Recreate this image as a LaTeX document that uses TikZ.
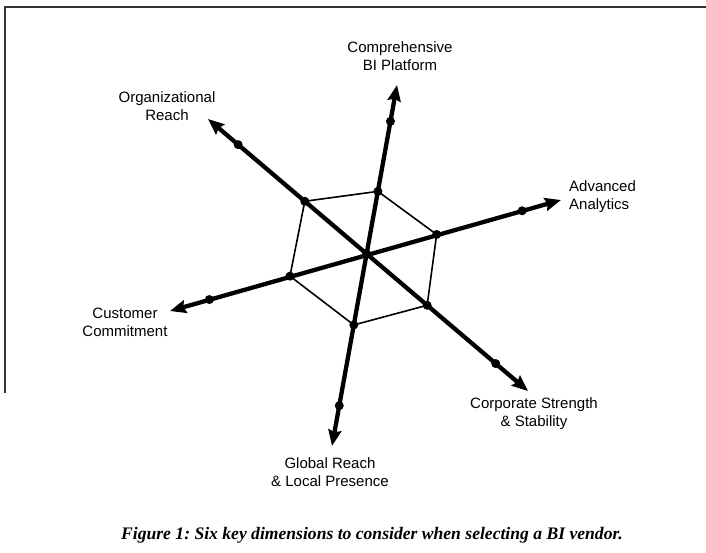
\documentclass[tikz,border=0pt]{standalone}
\usepackage{fontspec}
\setmainfont{Liberation Sans}
\newfontfamily\capfont{Liberation Serif}
\usetikzlibrary{arrows.meta,calc}
\frenchspacing
\begin{document}
\begin{tikzpicture}[x=1pt,y=-1pt,
  axis/.style={line width=4.3pt,
    {Stealth[length=16pt,width=13pt,inset=2pt]}-{Stealth[length=16pt,width=13pt,inset=2pt]}},
  hexline/.style={line width=1.6pt},
  dot/.style={circle,fill=black,inner sep=0pt,minimum size=9pt},
  lbl/.style={font=\fontsize{15}{18}\selectfont, align=center, inner sep=0pt},
  frameline/.style={line width=1.5pt, black!80}]
\useasboundingbox (0,0) rectangle (706,552);
% frame
\coordinate (fTR) at (706,7);
\coordinate (fTL) at (5,7);
\coordinate (fBL) at (5,393);
\draw[frameline] (fTR) -- (fTL) -- (fBL);
% axis tips
\coordinate (tU) at (397,85);
\coordinate (tG) at (332,446);
\coordinate (tO) at (208,119);
\coordinate (tC) at (528,391);
\coordinate (tA) at (561,200);
\coordinate (tM) at (170,311);
\coordinate (c) at (intersection of tU--tG and tO--tC);
% hexagon vertices
\coordinate (hU) at ($(c)!0.37!(tU)$);
\coordinate (hA) at ($(c)!0.36!(tA)$);
\coordinate (hC) at ($(c)!0.375!(tC)$);
\coordinate (hG) at ($(c)!0.37!(tG)$);
\coordinate (hM) at ($(c)!0.39!(tM)$);
\coordinate (hO) at ($(c)!0.39!(tO)$);
% outer dots
\coordinate (oU) at ($(c)!0.785!(tU)$);
\coordinate (oA) at ($(c)!0.80!(tA)$);
\coordinate (oC) at ($(c)!0.80!(tC)$);
\coordinate (oG) at ($(c)!0.79!(tG)$);
\coordinate (oM) at ($(c)!0.80!(tM)$);
\coordinate (oO) at ($(c)!0.81!(tO)$);
% hexagon
\draw[hexline] (hU) -- (hA) -- (hC) -- (hG) -- (hM) -- (hO) -- cycle;
% axes
\draw[axis] (tG) -- (tU);
\draw[axis] (tO) -- (tC);
\draw[axis] (tM) -- (tA);
% dots
\foreach \p in {c,hU,hA,hC,hG,hM,hO,oU,oA,oC,oG,oM,oO}
  \node[dot] (d\p) at (\p) {};
% labels
\node[lbl] (lU) at (400,56) {Comprehensive\\BI Platform};
\node[lbl] (lO) at (167,106.5) {Organizational\\Reach};
\node[lbl, anchor=west, align=left] (lA) at (569,196.5) {Advanced\\Analytics};
\node[lbl] (lM) at (125,322) {Customer\\Commitment};
\node[lbl] (lC) at (534,414) {Corporate Strength\\\& Stability};
\node[lbl] (lG) at (330,472) {Global Reach\\\& Local Presence};
% caption
\node[font={\capfont\fontsize{17.6}{20}\selectfont\bfseries\itshape}, inner sep=0pt] (cap) at (372,535)
  {Figure 1: Six key dimensions to consider when selecting a BI vendor.};
\end{tikzpicture}
\end{document}
